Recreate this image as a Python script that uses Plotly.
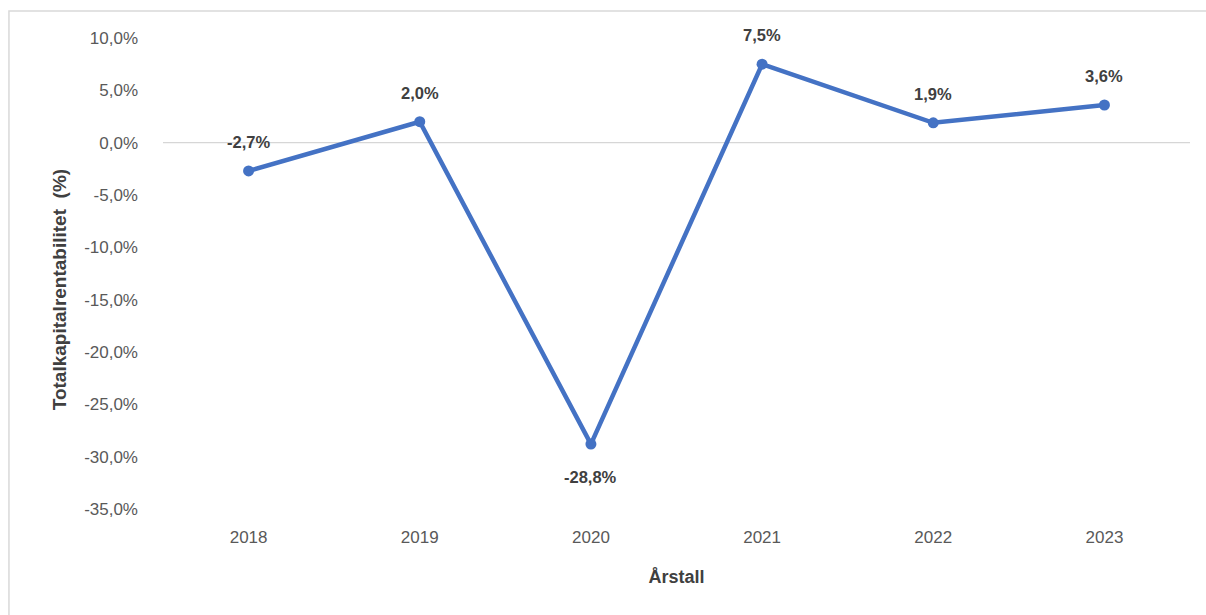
import plotly.graph_objects as go

years = ["2018", "2019", "2020", "2021", "2022", "2023"]
returns = [-2.7, 2.0, -28.8, 7.5, 1.9, 3.6]
label_above = [True, True, False, True, True, True]
y_ticks = [10, 5, 0, -5, -10, -15, -20, -25, -30, -35]


def pct(v):
    return f"{v:.1f}%".replace(".", ",")


FONT = "Liberation Sans Narrow, Arial Narrow, Liberation Sans, Arial, sans-serif"
BLUE = "#4472C4"

fig = go.Figure()
fig.add_trace(go.Scatter(
    x=years,
    y=returns,
    mode="lines+markers",
    line=dict(color=BLUE, width=4.5),
    marker=dict(color=BLUE, size=11),
    showlegend=False,
    hoverinfo="skip",
))

# value labels; x given as category index
for i, (v, up) in enumerate(zip(returns, label_above)):
    fig.add_annotation(
        x=i, y=v, xref="x", yref="y", text=pct(v), showarrow=False,
        yshift=29 if up else -33,
        font=dict(family=FONT, size=16.5, color="#404040", weight="bold"),
    )

# y axis title
fig.add_annotation(
    x=-0.100, y=0.465, xref="paper", yref="paper",
    xanchor="center", yanchor="middle",
    text="Totalkapitalrentabilitet  (%)", textangle=-90, showarrow=False,
    font=dict(family=FONT, size=19, color="#404040", weight="bold"),
)

# zero reference line across the plot
fig.add_shape(type="line", xref="paper", yref="y", x0=0, x1=1, y0=0, y1=0,
              line=dict(color="#d6d6d6", width=1.2), layer="below")

# outer chart frame
fig.add_shape(type="rect", xref="paper", yref="paper",
              x0=-0.150, x1=1.2, y0=-0.3, y1=1.0573,
              line=dict(color="#d9d9d9", width=1.5))

fig.update_layout(
    width=1206, height=615,
    margin=dict(l=163, r=16, t=38, b=106),
    paper_bgcolor="white", plot_bgcolor="white",
    font=dict(family=FONT, color="#595959"),
    xaxis=dict(
        type="category", range=[-0.5, 5.5],
        showgrid=False, zeroline=False, showline=False, ticks="",
        tickfont=dict(family=FONT, size=17, color="#595959"),
        ticklabelstandoff=16,
        title=dict(text="Årstall", standoff=24,
                   font=dict(family=FONT, size=18, color="#404040", weight="bold")),
    ),
    yaxis=dict(
        range=[-35, 10], tickvals=y_ticks, ticktext=[pct(v) for v in y_ticks],
        showgrid=False, zeroline=False, showline=False, ticks="",
        tickfont=dict(family=FONT, size=17, color="#595959"),
        ticklabelstandoff=24,
    ),
)

fig.write_html("out.html")
